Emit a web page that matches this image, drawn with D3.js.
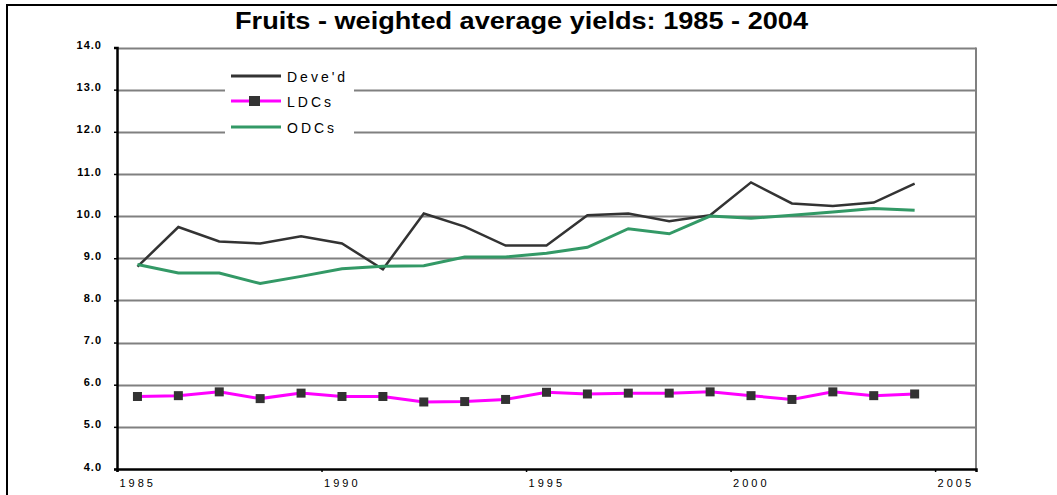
<!DOCTYPE html>
<html><head><meta charset="utf-8">
<script src="https://cdn.jsdelivr.net/npm/d3@7"></script>
<style>body{margin:0;background:#fff;} svg{display:block;}</style>
</head><body>
<svg id="c" width="1057" height="495"></svg>
<script>
const years = [1985,1986,1987,1988,1989,1990,1991,1992,1993,1994,1995,1996,1997,1998,1999,2000,2001,2002,2003,2004];
const develd = [8.80,9.74,9.40,9.35,9.52,9.35,8.74,10.06,9.75,9.30,9.30,10.02,10.06,9.88,10.02,10.80,10.30,10.24,10.32,10.77];
const ldcs   = [5.72,5.74,5.83,5.67,5.80,5.72,5.72,5.59,5.60,5.65,5.82,5.78,5.80,5.80,5.83,5.74,5.65,5.83,5.74,5.78];
const odcs   = [8.85,8.65,8.65,8.40,8.57,8.75,8.81,8.82,9.03,9.03,9.12,9.26,9.70,9.58,10.00,9.95,10.02,10.10,10.18,10.14];
const yTicks = [4,5,6,7,8,9,10,11,12,13,14];
const xTickLabels = ["1985","1990","1995","2000","2005"];
const seriesNames = ["Deve'd","LDCs","ODCs"];
const title = "Fruits - weighted average yields: 1985 - 2004";

const svg = d3.select("#c");
const L = 117, R = 976, T = 47.5, B = 469;
const x = d3.scaleLinear().domain([0, years.length + 1]).range([L, R]);
const y = d3.scaleLinear().domain([4, 14]).range([B, T]);
const px = i => x(i + 0.5);

// outer frame
svg.append("path").attr("d", `M7,495 V5 H1057`).attr("fill","none").attr("stroke","#000").attr("stroke-width",2);

// title
svg.append("text").attr("x",235).attr("y",29).attr("textLength",573).attr("lengthAdjust","spacingAndGlyphs")
  .style("font-family","Liberation Sans Narrow, Liberation Sans, Arial, sans-serif").style("font-size","23px").style("font-weight","bold")
  .attr("fill","#000").text(title);

// gridlines
svg.append("g").selectAll("line").data(yTicks.filter(d => d > 4)).join("line")
  .attr("x1", L).attr("x2", R).attr("y1", d => Math.round(y(d)) + 0.5).attr("y2", d => Math.round(y(d)) + 0.5)
  .attr("stroke","#808080").attr("stroke-width",2);
// right border
svg.append("line").attr("x1",R).attr("x2",R).attr("y1",y(14)).attr("y2",B).attr("stroke","#808080").attr("stroke-width",2);

// y axis
const yAxis = d3.axisLeft(y).tickValues(yTicks).tickSize(3).tickFormat(d3.format(".1f"));
const gy = svg.append("g").attr("transform",`translate(${L},0)`).call(yAxis);
gy.select(".domain").attr("stroke","#000").attr("stroke-width",2.5);
gy.selectAll(".tick line").attr("stroke","#000").attr("stroke-width",1.5);
gy.selectAll(".tick text").attr("x",-15).attr("dy","0.1em")
  .style("font-family","Liberation Sans, Arial, sans-serif").style("font-size","11px").style("font-weight","bold")
  .style("letter-spacing","1px").attr("fill","#000");

// x axis
const xAxis = d3.axisBottom(x).tickValues([0,5,10,15,20]).tickSize(3).tickFormat((d,i) => xTickLabels[i]);
const gx = svg.append("g").attr("transform",`translate(0,${B})`).call(xAxis);
gx.select(".domain").attr("stroke","#000").attr("stroke-width",2.5);
gx.selectAll(".tick line").attr("stroke","#000").attr("stroke-width",1.5);
gx.selectAll(".tick text").attr("text-anchor","start").attr("x",2).attr("y",10)
  .style("font-family","Liberation Sans, Arial, sans-serif").style("font-size","11px")
  .style("letter-spacing","3px").attr("fill","#000");

// legend background
svg.append("rect").attr("x",225).attr("y",58).attr("width",129).attr("height",86).attr("fill","#fff");

const line = d3.line().x((d,i) => px(i)).y(d => y(d));
svg.append("path").datum(develd).attr("d",line).attr("fill","none").attr("stroke","#333333").attr("stroke-width",2.5);
svg.append("path").datum(odcs).attr("d",line).attr("fill","none").attr("stroke","#339966").attr("stroke-width",3);
svg.append("path").datum(ldcs).attr("d",line).attr("fill","none").attr("stroke","#ff00ff").attr("stroke-width",3);
svg.append("g").selectAll("rect").data(ldcs).join("rect")
  .attr("x",(d,i) => px(i) - 4.5).attr("y",d => y(d) - 4.5).attr("width",9).attr("height",9).attr("fill","#333333");

// legend
const legColors = ["#333333","#ff00ff","#339966"];
const legY = [76, 101, 127];
const lg = svg.append("g");
seriesNames.forEach((n,i) => {
  lg.append("line").attr("x1",231).attr("x2",281).attr("y1",legY[i]).attr("y2",legY[i])
    .attr("stroke",legColors[i]).attr("stroke-width",3);
  if (i === 1) lg.append("rect").attr("x",249).attr("y",legY[i]-5).attr("width",11).attr("height",10).attr("fill","#333333");
  lg.append("text").attr("x",287).attr("y",legY[i]+5.5)
    .style("font-family","Liberation Sans, Arial, sans-serif").style("font-size","14px")
    .style("letter-spacing","3px").attr("fill","#000").text(n);
});
</script>
</body></html>
